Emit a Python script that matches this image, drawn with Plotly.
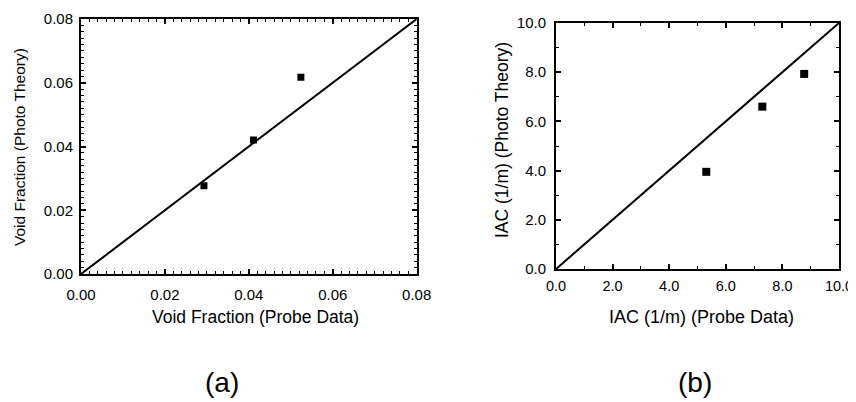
import plotly.graph_objects as go

# Panel (a): void fraction
void_probe = [0.0293, 0.0411, 0.0524]
void_photo = [0.0277, 0.0420, 0.0617]
void_line = [0.0, 0.08]

# Panel (b): interfacial area concentration
iac_probe = [5.31, 7.29, 8.77]
iac_photo = [3.95, 6.60, 7.93]
iac_line = [0.0, 10.0]

void_ticks = [0.00, 0.02, 0.04, 0.06, 0.08]
void_ticktext = ["0.00", "0.02", "0.04", "0.06", "0.08"]
iac_ticks = [0, 2, 4, 6, 8, 10]
iac_ticktext = ["0.0", "2.0", "4.0", "6.0", "8.0", "10.0"]

FONT = "Liberation Sans, Arial, sans-serif"

fig = go.Figure()
fig.add_trace(go.Scatter(x=void_line, y=void_line, mode="lines",
                         line=dict(color="black", width=2), xaxis="x", yaxis="y", showlegend=False))
fig.add_trace(go.Scatter(x=void_probe, y=void_photo, mode="markers",
                         marker=dict(symbol="square", size=7, color="black"),
                         xaxis="x", yaxis="y", showlegend=False))
fig.add_trace(go.Scatter(x=iac_line, y=iac_line, mode="lines",
                         line=dict(color="black", width=2), xaxis="x2", yaxis="y2", showlegend=False))
fig.add_trace(go.Scatter(x=iac_probe, y=iac_photo, mode="markers",
                         marker=dict(symbol="square", size=8, color="black"),
                         xaxis="x2", yaxis="y2", showlegend=False))

OFF = 8  # page body margin offset
W, H = 856, 402


def px(x):
    return (x - OFF) / W


def py(y):
    return 1 - (y - OFF) / H


def ax(domain, rng, tickvals, ticktext, minor_dtick, anchor, standoff, size=15):
    return dict(domain=domain, range=rng, anchor=anchor, automargin=False,
                tickmode="array", tickvals=tickvals, ticktext=ticktext,
                ticks="inside", ticklen=5, tickwidth=1.5, tickcolor="black",
                minor=dict(ticks="inside", dtick=minor_dtick, ticklen=3, tickwidth=1.2, tickcolor="black"),
                showline=True, linecolor="black", linewidth=2, mirror="ticks",
                showgrid=False, zeroline=False, ticklabelstandoff=standoff,
                tickfont=dict(family=FONT, size=size, color="black"))

xa = ax([px(81), px(416.7)], [0, 0.08], void_ticks, void_ticktext, 0.002, "y", 6)
ya = ax([py(274), py(19)], [0, 0.08], void_ticks, void_ticktext, 0.002, "x", 3)
xb = ax([px(556), px(839)], [0, 10], iac_ticks, iac_ticktext, 1, "y2", 3, 14.5)
yb = ax([py(269), py(23)], [0, 10], iac_ticks, iac_ticktext, 1, "x2", 5)


def ann(text, x, y, size, angle=0):
    return dict(text=text, x=px(x), y=py(y), xref="paper", yref="paper",
                xanchor="center", yanchor="middle", showarrow=False, textangle=angle,
                font=dict(family=FONT, size=size, color="black"))

annotations = [
    ann("Void Fraction (Probe Data)", 255, 317, 17.5),
    ann("Void Fraction (Photo Theory)", 20, 147, 15.5, -90),
    ann("IAC (1/m) (Probe Data)", 701, 317, 18),
    ann("IAC (1/m) (Photo Theory)", 502, 140, 17.5, -90),
    ann("(a)", 222, 382, 28),
    ann("(b)", 695, 382, 28),
]

fig.update_layout(width=W, height=H, margin=dict(l=0, r=0, t=0, b=0),
                  paper_bgcolor="white", plot_bgcolor="white",
                  xaxis=xa, yaxis=ya, xaxis2=xb, yaxis2=yb,
                  annotations=annotations, showlegend=False)

fig.write_html("out.html")
